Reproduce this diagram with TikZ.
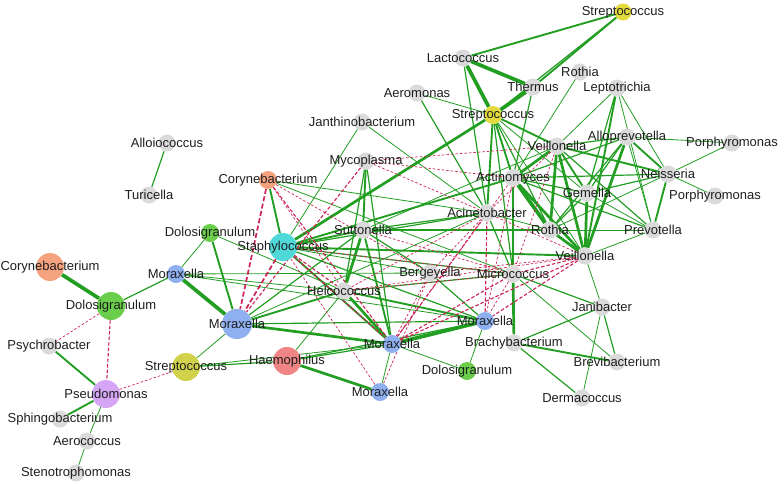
\documentclass[tikz,border=0pt]{standalone}
\usepackage{fontspec}
\setmainfont{Liberation Sans}
\pgfdeclarelayer{bg}
\pgfdeclarelayer{fg}
\pgfsetlayers{bg,main,fg}
\definecolor{cgray}{RGB}{218,218,218}
\definecolor{cyel}{RGB}{226,218,60}
\definecolor{cyel2}{RGB}{210,210,74}
\definecolor{ccyan}{RGB}{78,216,216}
\definecolor{corange}{RGB}{245,163,126}
\definecolor{cgreen}{RGB}{106,206,74}
\definecolor{cblue}{RGB}{143,176,240}
\definecolor{cred}{RGB}{240,133,133}
\definecolor{cpurple}{RGB}{212,166,245}
\definecolor{eg}{RGB}{34,158,34}
\definecolor{er}{RGB}{205,35,85}
\definecolor{ctext}{RGB}{30,30,30}
\tikzset{
  nd/.style={circle, inner sep=0pt, minimum size=17pt, fill=cgray},
  big/.style={minimum size=28pt},
  mid/.style={minimum size=18pt},
  lab/.style={font=\fontsize{13}{15}\selectfont, text=ctext, inner sep=0pt},
  g1/.style={eg, line width=0.8pt},
  g2/.style={eg, line width=1.2pt},
  g3/.style={eg, line width=1.9pt},
  g4/.style={eg, line width=2.7pt},
  g5/.style={eg, line width=3.7pt},
  r1/.style={er, line width=0.7pt, dash pattern=on 2.5pt off 2pt},
  r2/.style={er, line width=1.1pt, dash pattern=on 3.5pt off 2pt},
  r3/.style={er, line width=1.7pt, dash pattern=on 5pt off 2.5pt},
}
\begin{document}
\begin{tikzpicture}[x=1pt, y=-1pt]
\useasboundingbox (0,0) rectangle (778,485);
% nodes
\node[nd, fill=cyel] (stT) at (623,12) {};
\node[nd] (lac) at (463,58) {};
\node[nd] (the) at (533,87) {};
\node[nd, mid, fill=cyel] (stM) at (493,115) {};
\node[nd] (aer) at (417,93) {};
\node[nd] (jan) at (362,122) {};
\node[nd] (roT) at (580,72) {};
\node[nd] (lep) at (617,88) {};
\node[nd] (all) at (627,137) {};
\node[nd] (po1) at (732,143) {};
\node[nd] (veT) at (557,146) {};
\node[nd] (nei) at (668,174) {};
\node[nd] (po2) at (715,196) {};
\node[nd] (act) at (513,178) {};
\node[nd] (gem) at (587,193) {};
\node[nd] (aci) at (487,213) {};
\node[nd] (roM) at (550,230) {};
\node[nd] (pre) at (653,230) {};
\node[nd] (veB) at (585,256) {};
\node[nd] (mic) at (513,274) {};
\node[nd] (ber) at (430,273) {};
\node[nd] (jab) at (602,307) {};
\node[nd, mid, fill=cblue] (moR) at (485,321) {};
\node[nd] (bra) at (514,343) {};
\node[nd] (brv) at (617,362) {};
\node[nd] (der) at (582,398) {};
\node[nd, mid, fill=cgreen] (doB) at (467,371) {};
\node[nd, mid, fill=cblue] (moC) at (392,344) {};
\node[nd, mid, fill=cblue] (moB) at (380,392) {};
\node[nd, big, fill=cred] (hae) at (287,361) {};
\node[nd, big, minimum size=30pt, fill=cblue] (moL) at (237,324) {};
\node[nd] (hel) at (344,291) {};
\node[nd] (sut) at (363,230) {};
\node[nd, big, fill=ccyan] (sta) at (283,247) {};
\node[nd, mid, fill=corange] (coM) at (268,180) {};
\node[nd] (myc) at (366,161) {};
\node[nd, mid, fill=cgreen] (doM) at (210,233) {};
\node[nd, mid, fill=cblue] (moM) at (176,274) {};
\node[nd] (alo) at (167,143) {};
\node[nd] (tur) at (149,195) {};
\node[nd, big, fill=corange] (coL) at (50,267) {};
\node[nd, big, fill=cgreen] (doL) at (111,306) {};
\node[nd] (psy) at (49,346) {};
\node[nd, big, fill=cpurple] (pse) at (106,394) {};
\node[nd, big, fill=cyel2] (stL) at (186,367) {};
\node[nd] (sph) at (60,419) {};
\node[nd] (aeo) at (87,441) {};
\node[nd] (ste) at (76,473) {};
% edges
\begin{pgfonlayer}{bg}
\foreach \a/\b in {pse/aeo, aeo/ste, stL/moL, stL/moC, doM/moM, doM/hel, moM/hel, moM/ber, moM/moR, coM/aci, coM/mic, jan/sta, jan/aci, aer/stM, roT/act, stM/gem, stM/veB, lep/veT, lep/nei, lep/pre, all/po1, all/pre, nei/po1, nei/po2, nei/roM, gem/pre, roM/pre, pre/veB, veB/jab, mic/brv, jab/der, moR/doB, moC/doB, moC/moB, hae/hel, moL/aci, sut/veT, sta/ber, aci/roM}
  \draw[g1] (\a) -- (\b);
\foreach \a/\b in {alo/tur, doL/moM, stL/hae, aer/aci, lac/aci, stT/stM, the/act, stM/mic, stM/roM, lep/gem, all/veT, all/gem, all/roM, all/act, veT/pre, nei/act, nei/gem, act/gem, act/pre, act/mic, gem/roM, mic/jab, jab/bra, jab/brv, bra/der, moR/moL, moR/sta, moC/hae, hae/moR, moL/sut, sut/ber, sut/aci, sut/roM, sta/aci, sta/mic, myc/hel, myc/moC, hel/mic, ber/moR, aci/mic}
  \draw[g2] (\a) -- (\b);
\foreach \a/\b in {psy/pse, pse/sph, doM/moL, coM/sta, lac/stT, stT/the, stM/act, stM/aci, stM/veT, lep/veB, all/nei, veT/gem, veT/nei, nei/pre, bra/brv, moR/hel, moC/sut, moL/hel, sut/sta, sta/act, sta/veB, sta/moC, myc/sut}
  \draw[g3] (\a) -- (\b);
\foreach \a/\b in {stM/sta, all/veB, veT/act, veT/roM, veT/veB, act/veB, gem/veB, roM/veB, mic/bra, moC/moL, moC/hel, hae/moB, sut/hel}
  \draw[g4] (\a) -- (\b);
\foreach \a/\b in {coL/doL, moM/moL, lac/the, lac/stM, the/stM, act/roM, moR/moC}
  \draw[g5] (\a) -- (\b);
\foreach \a/\b in {doL/psy, pse/stL, coM/hel, coM/ber, sta/mic, myc/act, myc/aci, myc/veT, moC/ber, moC/act, moB/sta, moB/ber, veT/mic, veT/aci, veB/aci, mic/moR, mic/hel, ber/aci, ber/veB, hel/aci, act/moR, hel/veB, sut/mic}
  \draw[r1] (\a) -- (\b);
\foreach \a/\b in {doL/pse, coM/moC, sta/hel, sta/moC, myc/moL, moC/aci, moC/mic, moC/veB, veB/moR, veB/mic, moR/aci}
  \draw[r2] (\a) -- (\b);
\foreach \a/\b in {coM/moL, sta/moL}
  \draw[r3] (\a) -- (\b);
\end{pgfonlayer}
% labels
\begin{pgfonlayer}{fg}
\node[lab] (l-stT) at (stT) {Streptococcus};
\node[lab] (l-lac) at (lac) {Lactococcus};
\node[lab] (l-the) at (the) {Thermus};
\node[lab] (l-stM) at (stM) {Streptococcus};
\node[lab] (l-aer) at (aer) {Aeromonas};
\node[lab] (l-jan) at (jan) {Janthinobacterium};
\node[lab] (l-roT) at (roT) {Rothia};
\node[lab] (l-lep) at (lep) {Leptotrichia};
\node[lab] (l-all) at (all) {Alloprevotella};
\node[lab] (l-po1) at (po1) {Porphyromonas};
\node[lab] (l-veT) at (veT) {Veillonella};
\node[lab] (l-nei) at (nei) {Neisseria};
\node[lab] (l-po2) at (po2) {Porphyromonas};
\node[lab] (l-act) at (act) {Actinomyces};
\node[lab] (l-gem) at (gem) {Gemella};
\node[lab] (l-aci) at (aci) {Acinetobacter};
\node[lab] (l-roM) at (roM) {Rothia};
\node[lab] (l-pre) at (pre) {Prevotella};
\node[lab] (l-veB) at (veB) {Veillonella};
\node[lab] (l-mic) at (mic) {Micrococcus};
\node[lab] (l-ber) at (ber) {Bergeyella};
\node[lab] (l-jab) at (jab) {Janibacter};
\node[lab] (l-moR) at (moR) {Moraxella};
\node[lab] (l-bra) at (bra) {Brachybacterium};
\node[lab] (l-brv) at (brv) {Brevibacterium};
\node[lab] (l-der) at (der) {Dermacoccus};
\node[lab] (l-doB) at (doB) {Dolosigranulum};
\node[lab] (l-moC) at (moC) {Moraxella};
\node[lab] (l-moB) at (moB) {Moraxella};
\node[lab] (l-hae) at (hae) {Haemophilus};
\node[lab] (l-moL) at (moL) {Moraxella};
\node[lab] (l-hel) at (hel) {Helcococcus};
\node[lab] (l-sut) at (sut) {Suttonella};
\node[lab] (l-sta) at (sta) {Staphylococcus};
\node[lab] (l-coM) at (coM) {Corynebacterium};
\node[lab] (l-myc) at (myc) {Mycoplasma};
\node[lab] (l-doM) at (doM) {Dolosigranulum};
\node[lab] (l-moM) at (moM) {Moraxella};
\node[lab] (l-alo) at (alo) {Alloiococcus};
\node[lab] (l-tur) at (tur) {Turicella};
\node[lab] (l-coL) at (coL) {Corynebacterium};
\node[lab] (l-doL) at (doL) {Dolosigranulum};
\node[lab] (l-psy) at (psy) {Psychrobacter};
\node[lab] (l-pse) at (pse) {Pseudomonas};
\node[lab] (l-stL) at (stL) {Streptococcus};
\node[lab] (l-sph) at (sph) {Sphingobacterium};
\node[lab] (l-aeo) at (aeo) {Aerococcus};
\node[lab] (l-ste) at (ste) {Stenotrophomonas};
\end{pgfonlayer}
\end{tikzpicture}
\end{document}
